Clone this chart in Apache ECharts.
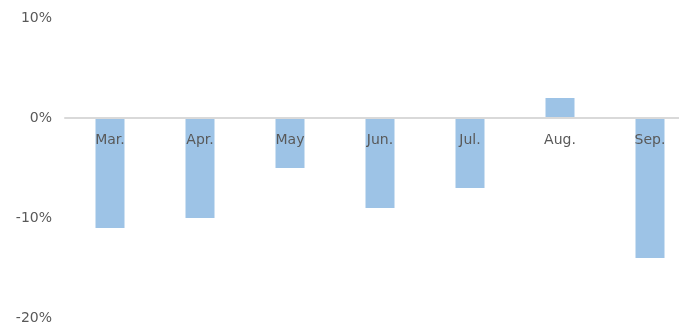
<!DOCTYPE html>
<html>
<head>
<meta charset="utf-8">
<script src="https://cdn.jsdelivr.net/npm/echarts@6/dist/echarts.min.js"></script>
<style>
  html, body { margin: 0; padding: 0; background: #fff; }
  #chart { width: 679px; height: 325px; }
</style>
</head>
<body>
<div id="chart"></div>
<script>
  const months = ['Mar.', 'Apr.', 'May', 'Jun.', 'Jul.', 'Aug.', 'Sep.'];
  const changePct = [-11, -10, -5, -9, -7, 2, -14];
  const yTicks = { min: -20, max: 10, step: 10 };

  const myChart = echarts.init(document.getElementById('chart'));
  myChart.setOption({
    animation: false,
    grid: {
      top: 18,
      bottom: 7,
      left: 65,
      right: -16,
      containLabel: false,
      outerBoundsMode: 'none'
    },
    xAxis: {
      type: 'category',
      data: months,
      z: 10,
      position: 'bottom',
      // the axis sits on the 0% line, 200px above the plot bottom
      offset: -200,
      axisTick: { show: false },
      axisLine: { onZero: false, lineStyle: { color: '#D9D9D9', width: 2 } },
      axisLabel: {
        color: '#595959',
        fontFamily: 'DejaVu Sans',
        fontSize: 14,
        margin: 15
      }
    },
    yAxis: {
      type: 'value',
      min: yTicks.min,
      max: yTicks.max,
      interval: yTicks.step,
      axisLine: { show: false },
      axisTick: { show: false },
      splitLine: { show: false },
      axisLabel: {
        formatter: '{value}%',
        color: '#595959',
        fontFamily: 'DejaVu Sans',
        fontSize: 14,
        margin: 13
      }
    },
    series: [{
      type: 'bar',
      data: changePct,
      barWidth: 29,
      itemStyle: { color: '#9DC3E6' }
    }]
  });
</script>
</body>
</html>
